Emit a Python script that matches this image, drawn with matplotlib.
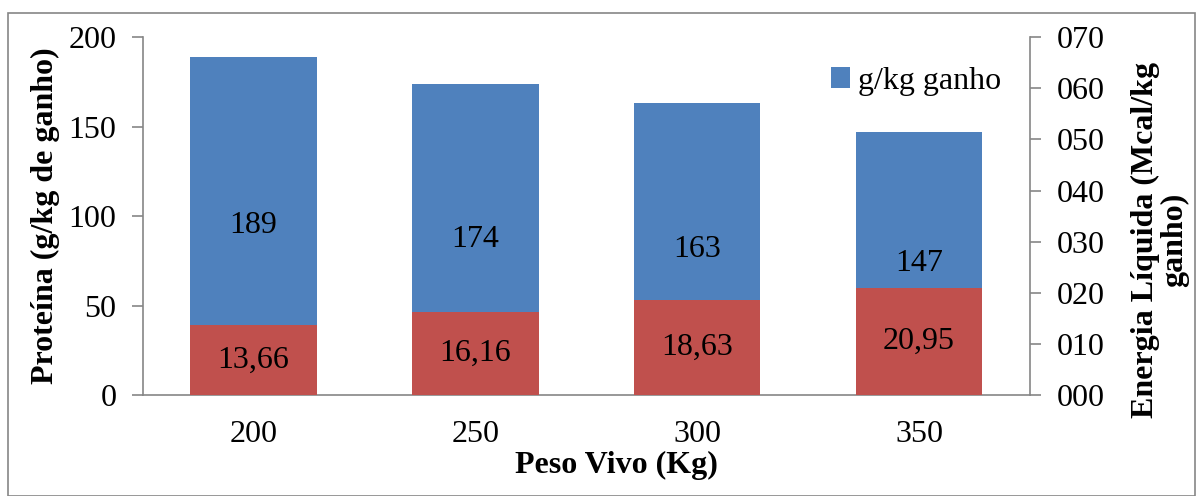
import matplotlib.pyplot as plt
from matplotlib.patches import Rectangle

plt.rcParams['font.family'] = ['Liberation Serif', 'DejaVu Serif']

peso_vivo = ['200', '250', '300', '350']
proteina = [189, 174, 163, 147]
energia = [13.66, 16.16, 18.63, 20.95]

fig = plt.figure(figsize=(11.99, 4.96), dpi=100)
ax = fig.add_axes([0.119, 0.2036, 0.74, 0.7214])
ax2 = ax.twinx()

x = range(len(peso_vivo))
width = 0.57
bars = ax.bar(x, proteina, width, color='#4F81BD', label='g/kg ganho', zorder=2)
bars2 = ax2.bar(x, energia, width, color='#C0504D', zorder=2)

ax.set_ylim(0, 200)
ax.set_yticks(range(0, 201, 50))
ax2.set_ylim(0, 70)
ax2.set_yticks(range(0, 71, 10))
ax2.set_yticklabels([f'{v:03d}' for v in range(0, 71, 10)])
ax.set_xlim(-0.5, len(peso_vivo) - 0.5)
ax.set_xticks(list(x))
ax.set_xticklabels(peso_vivo)

for b, v in zip(bars, proteina):
    ax.text(b.get_x() + b.get_width() / 2, v / 2, str(v), ha='center', va='center', fontsize=23)
for b, v in zip(bars2, energia):
    ax2.text(b.get_x() + b.get_width() / 2, v / 2, f'{v:.2f}'.replace('.', ','),
             ha='center', va='center', fontsize=23)

for a in (ax, ax2):
    a.spines['top'].set_visible(False)
    for s in a.spines.values():
        s.set_color('#868686')
        s.set_linewidth(1.2)
    a.tick_params(axis='y', labelsize=23, length=8, color='#868686', width=1.2, pad=11)
    a.tick_params(axis='x', labelsize=23, length=0, pad=18)
ax.spines['right'].set_visible(False)
ax2.spines['left'].set_visible(False)
ax2.spines['bottom'].set_visible(False)

ax.set_ylabel('Proteína (g/kg de ganho)', fontsize=23, fontweight='bold', labelpad=6)
ax.set_xlabel('Peso Vivo (Kg)', fontsize=23, fontweight='bold')
ax.xaxis.set_label_coords((617 - 143) / 887, -0.155)

# right axis title sits a little below the axis centre
fig.text(1160 / 1199, 1 - 240 / 496, 'Energia Líquida (Mcal/kg\nganho)', fontsize=23,
         fontweight='bold', rotation=90, ha='center', va='center', multialignment='center',
         linespacing=1.0)

ax.legend(loc='upper right', bbox_to_anchor=(0.993, 0.98), frameon=False, fontsize=23,
          handlelength=0.6, handleheight=0.6, handletextpad=0.25, borderaxespad=0.3)

fig.patches.append(Rectangle((8 / 1199, 0), 1187 / 1199, 1 - 13 / 496, transform=fig.transFigure,
                             fill=False, edgecolor='#868686', linewidth=1.2))

fig.savefig('out.png', dpi=100)
